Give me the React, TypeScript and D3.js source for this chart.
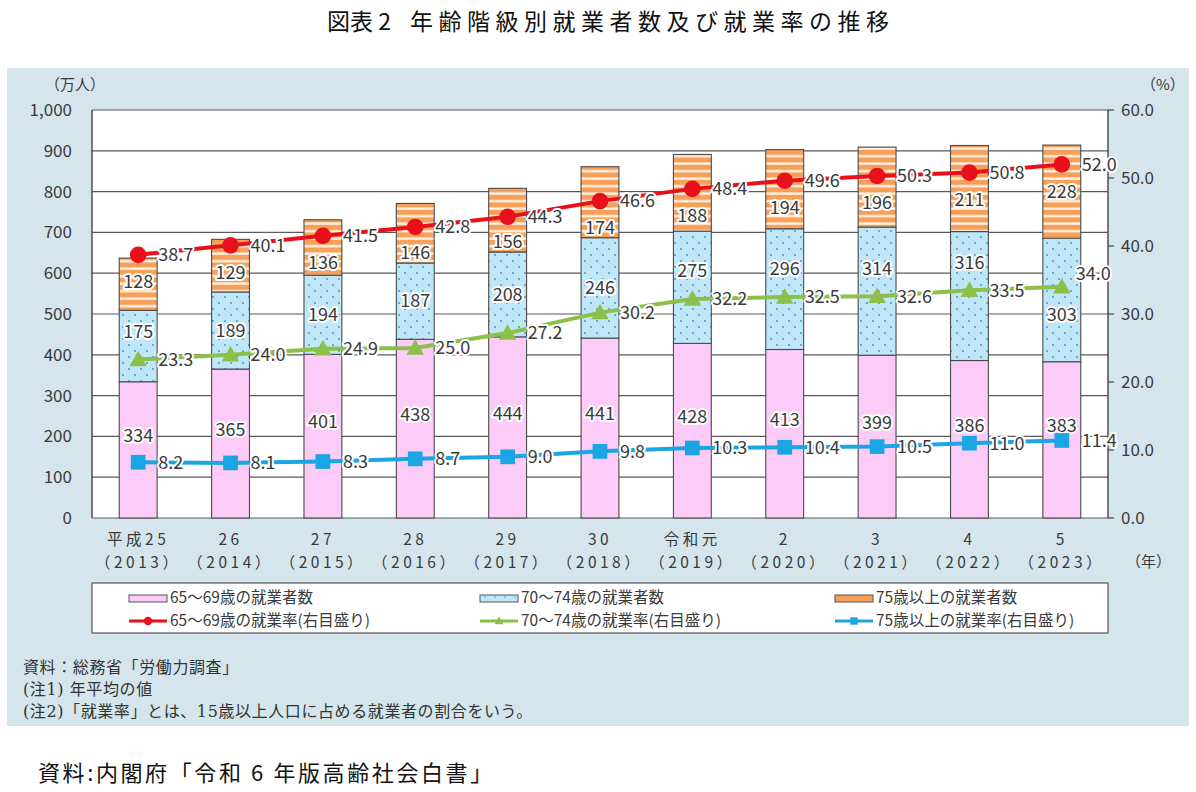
import React, { useEffect, useRef } from 'react';
import * as d3 from 'd3';

// 和暦と西暦
const eraYears = ['平成25', '26', '27', '28', '29', '30', '令和元', '2', '3', '4', '5'];
const westernYears = ['2013', '2014', '2015', '2016', '2017', '2018', '2019', '2020', '2021', '2022', '2023'];

// 就業者数（万人）
const workers6569 = [334, 365, 401, 438, 444, 441, 428, 413, 399, 386, 383];
const workers7074 = [175, 189, 194, 187, 208, 246, 275, 296, 314, 316, 303];
const workers75 = [128, 129, 136, 146, 156, 174, 188, 194, 196, 211, 228];

// 就業率（%）
const rate6569 = [38.7, 40.1, 41.5, 42.8, 44.3, 46.6, 48.4, 49.6, 50.3, 50.8, 52.0];
const rate7074 = [23.3, 24.0, 24.9, 25.0, 27.2, 30.2, 32.2, 32.5, 32.6, 33.5, 34.0];
const rate75 = [8.2, 8.1, 8.3, 8.7, 9.0, 9.8, 10.3, 10.4, 10.5, 11.0, 11.4];

const leftTicks = [0, 100, 200, 300, 400, 500, 600, 700, 800, 900, 1000];
const rightTicks = [0, 10, 20, 30, 40, 50, 60];

const barLegend = ['65～69歳の就業者数', '70～74歳の就業者数', '75歳以上の就業者数'];
const lineLegend = ['65～69歳の就業率(右目盛り)', '70～74歳の就業率(右目盛り)', '75歳以上の就業率(右目盛り)'];

const notes = [
  '資料：総務省「労働力調査」',
  '(注1) 年平均の値',
  '(注2)「就業率」とは、15歳以上人口に占める就業者の割合をいう。',
];

const FONT = '"Noto Sans CJK JP", "Noto Sans", sans-serif';
const TEXT = '#3a3a3a';
const PINK = '#fccbf8';
const SKY = '#bfe7f8';
const ORANGE = '#f7a05a';
const RED = '#e8111b';
const GREEN = '#8dbf4b';
const BLUE = '#19a6e2';

const App: React.FC = () => {
  const svgRef = useRef<SVGSVGElement>(null);

  useEffect(() => {
    if (!svgRef.current) return;
    document.body.style.margin = '0';
    const svg = d3.select(svgRef.current);
    svg.selectAll('*').remove();

    const W = 1196;
    const H = 792;
    const left = 92, right = 1108, top = 110, bottom = 518;

    const defs = svg.append('defs');
    const dots = defs.append('pattern').attr('id', 'dots').attr('patternUnits', 'userSpaceOnUse')
      .attr('width', 12).attr('height', 12);
    dots.append('rect').attr('width', 12).attr('height', 12).attr('fill', SKY);
    dots.append('circle').attr('cx', 3).attr('cy', 3).attr('r', 0.9).attr('fill', '#3d8fc4');
    dots.append('circle').attr('cx', 9).attr('cy', 9).attr('r', 0.9).attr('fill', '#3d8fc4');

    const stripes = defs.append('pattern').attr('id', 'stripes').attr('patternUnits', 'userSpaceOnUse')
      .attr('width', 8).attr('height', 7.5);
    stripes.append('rect').attr('width', 8).attr('height', 7.5).attr('fill', ORANGE);
    stripes.append('rect').attr('y', 5).attr('width', 8).attr('height', 2.3).attr('fill', '#fff4ea');

    const smallDots = defs.append('pattern').attr('id', 'dotsSmall').attr('patternUnits', 'userSpaceOnUse')
      .attr('width', 10).attr('height', 6);
    smallDots.append('rect').attr('width', 10).attr('height', 6).attr('fill', SKY);
    smallDots.append('circle').attr('cx', 5).attr('cy', 3).attr('r', 0.7).attr('fill', '#3d8fc4');

    // background
    svg.append('rect').attr('width', W).attr('height', H).attr('fill', '#fff');
    svg.append('rect').attr('x', 7).attr('y', 68).attr('width', 1182).attr('height', 658).attr('fill', '#d4e6ec');

    // title
    const title = svg.append('text').attr('y', 30)
      .attr('font-family', FONT).attr('font-size', 23).attr('fill', '#111');
    title.append('tspan').attr('x', 327).attr('letter-spacing', 0).text('図表 2');
    title.append('tspan').attr('x', 410).attr('letter-spacing', 5.5).text('年齢階級別就業者数及び就業率の推移');

    const x = d3.scaleBand<string>().domain(westernYears).range([left, right]);
    const y = d3.scaleLinear().domain([0, 1000]).range([bottom, top]);
    const y2 = d3.scaleLinear().domain([0, 60]).range([bottom, top]);
    const barW = x.bandwidth() * 0.41;
    const cx = (i: number) => (x(westernYears[i]) as number) + x.bandwidth() / 2;

    // plot area
    svg.append('rect').attr('x', left).attr('y', top).attr('width', right - left).attr('height', bottom - top)
      .attr('fill', '#fff');

    const grid = svg.append('g');
    leftTicks.forEach(t => {
      grid.append('line').attr('x1', left).attr('x2', right).attr('y1', y(t)).attr('y2', y(t))
        .attr('stroke', '#5a5a5a').attr('stroke-width', 1.2);
    });
    grid.append('line').attr('x1', left).attr('x2', left).attr('y1', top).attr('y2', bottom)
      .attr('stroke', '#444').attr('stroke-width', 1.4);
    grid.append('line').attr('x1', right).attr('x2', right).attr('y1', top).attr('y2', bottom)
      .attr('stroke', '#444').attr('stroke-width', 1.4);

    // left axis labels
    const fmt = d3.format(',');
    leftTicks.forEach(t => {
      svg.append('text').attr('x', 72).attr('y', y(t)).attr('dy', '0.35em').attr('text-anchor', 'end')
        .attr('font-family', FONT).attr('font-size', 17).attr('fill', TEXT).text(fmt(t));
    });
    svg.append('text').attr('x', 45).attr('y', 85).attr('dy', '0.35em')
      .attr('font-family', FONT).attr('font-size', 15).attr('fill', TEXT).text('（万人）');

    // right axis labels and ticks
    rightTicks.forEach(t => {
      svg.append('line').attr('x1', right).attr('x2', right + 6).attr('y1', y2(t)).attr('y2', y2(t))
        .attr('stroke', '#444').attr('stroke-width', 1.2);
      svg.append('text').attr('x', 1121).attr('y', y2(t)).attr('dy', '0.35em')
        .attr('font-family', FONT).attr('font-size', 17).attr('fill', TEXT).text(t.toFixed(1));
    });
    svg.append('text').attr('x', 1141).attr('y', 85).attr('dy', '0.35em')
      .attr('font-family', FONT).attr('font-size', 15).attr('fill', TEXT).text('（%）');

    // x labels (two lines in one text)
    westernYears.forEach((yr, i) => {
      const t = svg.append('text').attr('y', 545)
        .attr('font-family', FONT).attr('font-size', 15.5).attr('fill', TEXT).attr('letter-spacing', 3.5)
        .attr('text-anchor', 'middle');
      t.append('tspan').attr('x', cx(i)).text(eraYears[i]);
      t.append('tspan').attr('x', cx(i)).attr('dy', 22.5).text(`（${yr}）`);
    });
    svg.append('text').attr('x', 1126).attr('y', 562).attr('dy', '0.35em')
      .attr('font-family', FONT).attr('font-size', 15).attr('fill', TEXT).text('（年）');

    // stacked bars
    const stackData = westernYears.map((yr, i) => ({ yr, a: workers6569[i], b: workers7074[i], c: workers75[i] }));
    const stack = d3.stack<any>().keys(['a', 'b', 'c'])(stackData);
    const fills = [PINK, 'url(#dots)', 'url(#stripes)'];
    const bars = svg.append('g');
    stack.forEach((layer, k) => {
      layer.forEach((d, i) => {
        bars.append('rect')
          .attr('x', cx(i) - barW / 2).attr('width', barW)
          .attr('y', y(d[1])).attr('height', y(d[0]) - y(d[1]))
          .attr('fill', fills[k]).attr('stroke', '#4a4a4a').attr('stroke-width', 1.1);
      });
    });

    const halo = (sel: d3.Selection<SVGTextElement, unknown, null, undefined>) =>
      sel.attr('font-family', FONT).attr('font-size', 18).attr('fill', TEXT)
        .attr('stroke', '#fff').attr('stroke-width', 4).attr('stroke-linejoin', 'round')
        .attr('paint-order', 'stroke').attr('dy', '0.35em');

    const labels = svg.append('g');
    const lineLabels = svg.append('g');

    // bar labels, moved off the rate lines where they collide
    stack.forEach((layer, k) => {
      layer.forEach((d, i) => {
        const y0 = y(d[0]);
        const y1 = y(d[1]);
        let ly = (y0 + y1) / 2;
        if (k === 0) ly -= 14;
        if (k === 1) {
          const gy = y2(rate7074[i]);
          if (Math.abs(ly - gy) < 14) ly = ly <= gy + 7 ? gy - 28 : gy + 28;
        }
        if (k === 2) {
          const ry = y2(rate6569[i]);
          if (Math.abs(ly - ry) < 30) ly = Math.min(ry + 27, y0 - 10);
        }
        halo(labels.append('text')).attr('x', cx(i)).attr('y', ly).attr('text-anchor', 'middle')
          .text(String(d[1] - d[0]));
      });
    });

    // rate lines
    const series = [
      { values: rate6569, color: RED, shape: 'circle' },
      { values: rate7074, color: GREEN, shape: 'triangle' },
      { values: rate75, color: BLUE, shape: 'square' },
    ];
    const line = d3.line<number>().x((_, i) => cx(i)).y(v => y2(v));
    const lineG = svg.append('g');
    const drawMarker = (g: any, shape: string, px: number, py: number, color: string, s: number) => {
      if (shape === 'circle') g.append('circle').attr('cx', px).attr('cy', py).attr('r', s * 0.52).attr('fill', color);
      else if (shape === 'square') g.append('rect').attr('x', px - s * 0.46).attr('y', py - s * 0.46)
        .attr('width', s * 0.92).attr('height', s * 0.92).attr('fill', color);
      else g.append('path').attr('d', `M${px},${py - s * 0.55}L${px + s * 0.55},${py + s * 0.42}L${px - s * 0.55},${py + s * 0.42}Z`)
        .attr('fill', color);
    };
    series.forEach(s => {
      lineG.append('path').attr('d', line(s.values)).attr('fill', 'none')
        .attr('stroke', s.color).attr('stroke-width', 4);
      s.values.forEach((v, i) => {
        const last = i === s.values.length - 1 && s.shape === 'triangle';
        halo(lineLabels.append('text')).attr('x', cx(i) + (last ? 14 : 20)).attr('y', y2(v) - (last ? 13 : 0))
          .text(v.toFixed(1));
      });
    });
    series.forEach(s => {
      s.values.forEach((v, i) => drawMarker(lineG, s.shape, cx(i), y2(v), s.color, 16));
    });
    lineLabels.raise();

    // legend
    const lg = svg.append('g');
    lg.append('rect').attr('x', left).attr('y', 583).attr('width', right - left).attr('height', 50)
      .attr('fill', '#fff').attr('stroke', '#555').attr('stroke-width', 1.2);
    const colX = [129, 480, 835];
    const legendFills = [PINK, 'url(#dotsSmall)', ORANGE];
    barLegend.forEach((name, i) => {
      lg.append('rect').attr('x', colX[i]).attr('y', 595).attr('width', 38).attr('height', 7)
        .attr('fill', legendFills[i]).attr('stroke', '#555').attr('stroke-width', 1);
      lg.append('text').attr('x', colX[i] + 41).attr('y', 598).attr('dy', '0.35em')
        .attr('font-family', FONT).attr('font-size', 15.5).attr('fill', TEXT).text(name);
    });
    lineLegend.forEach((name, i) => {
      const s = series[i];
      lg.append('line').attr('x1', colX[i]).attr('x2', colX[i] + 38).attr('y1', 621).attr('y2', 621)
        .attr('stroke', s.color).attr('stroke-width', 3);
      drawMarker(lg, s.shape, colX[i] + 19, 621, s.color, 8);
      lg.append('text').attr('x', colX[i] + 41).attr('y', 621).attr('dy', '0.35em')
        .attr('font-family', FONT).attr('font-size', 15.5).attr('fill', TEXT).text(name);
    });

    // notes
    notes.forEach((n, i) => {
      svg.append('text').attr('x', 23).attr('y', 667 + i * 22).attr('dy', '0.35em')
        .attr('font-family', '"DejaVu Serif", "Noto Sans CJK JP", serif').attr('font-size', 16)
        .attr('letter-spacing', 0.6).attr('fill', '#333').text(n);
    });

    svg.append('text').attr('x', 38).attr('y', 773).attr('dy', '0.35em')
      .attr('font-family', FONT).attr('font-size', 22).attr('fill', '#111').attr('letter-spacing', 2.6)
      .text('資料:内閣府「令和 6 年版高齢社会白書」');
  }, []);

  return (
    <svg ref={svgRef} width={1196} height={792} viewBox="0 0 1196 792"
      style={{ display: 'block', position: 'absolute', left: 0, top: 0 }} />
  );
};

export default App;
